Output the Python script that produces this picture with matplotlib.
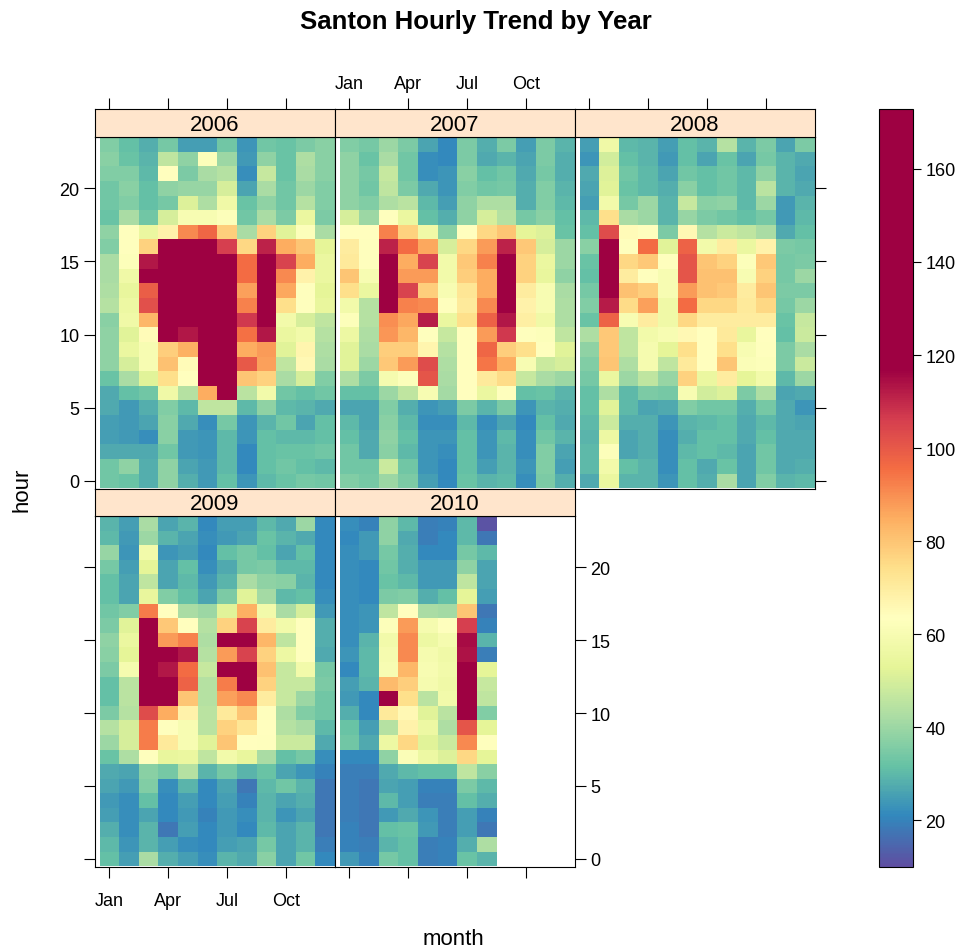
import numpy as np
import matplotlib
matplotlib.use("Agg")
import matplotlib.pyplot as plt
from matplotlib.colors import ListedColormap, Normalize

plt.rcParams['font.family'] = ['Liberation Sans', 'DejaVu Sans']

years = ["2006", "2007", "2008", "2009", "2010"]
month_ticks = [1, 4, 7, 10]
month_labels = ["Jan", "Apr", "Jul", "Oct"]
hour_ticks = [0, 5, 10, 15, 20]

# rows listed from hour 23 (top) down to hour 0; columns Jan..Dec
v2006 = [
    [36, 31, 28, 34, 25, 25, 33, 23, 33, 32, 35, 37],
    [37, 32, 29, 46, 38, 62, 40, 24, 38, 32, 43, 37],
    [36, 36, 30, 64, 35, 42, 44, 22, 47, 32, 42, 37],
    [33, 37, 31, 38, 39, 39, 50, 26, 42, 33, 40, 36],
    [33, 36, 31, 34, 51, 43, 57, 32, 38, 33, 44, 36],
    [32, 42, 33, 50, 60, 60, 62, 33, 42, 35, 55, 35],
    [38, 63, 55, 68, 91, 97, 78, 42, 77, 52, 62, 42],
    [36, 63, 77, 130, 140, 130, 106, 76, 111, 85, 80, 53],
    [42, 62, 113, 150, 160, 160, 140, 96, 130, 105, 85, 55],
    [42, 57, 125, 160, 170, 170, 150, 96, 140, 91, 68, 55],
    [43, 54, 99, 165, 170, 170, 150, 87, 140, 86, 63, 53],
    [44, 56, 102, 160, 170, 170, 150, 92, 135, 74, 63, 54],
    [37, 57, 83, 150, 160, 160, 140, 107, 125, 58, 50, 46],
    [38, 52, 65, 118, 113, 150, 140, 95, 113, 55, 58, 44],
    [38, 55, 60, 78, 84, 140, 130, 85, 88, 52, 67, 43],
    [38, 50, 60, 81, 65, 140, 130, 100, 87, 46, 66, 42],
    [32, 42, 52, 74, 64, 135, 135, 80, 77, 42, 50, 36],
    [27, 31, 33, 57, 44, 85, 130, 45, 58, 33, 31, 33],
    [27, 24, 28, 36, 30, 46, 46, 30, 38, 30, 29, 27],
    [25, 24, 26, 37, 27, 22, 34, 23, 29, 33, 26, 31],
    [25, 24, 22, 37, 24, 23, 30, 23, 31, 30, 30, 31],
    [27, 27, 27, 33, 24, 23, 30, 21, 31, 32, 32, 33],
    [33, 38, 28, 38, 26, 24, 30, 21, 31, 33, 31, 30],
    [33, 32, 28, 38, 28, 24, 31, 23, 30, 32, 34, 33],
]
v2007 = [
    [36, 34, 40, 35, 26, 21, 35, 28, 35, 25, 35, 29],
    [38, 32, 42, 33, 22, 21, 35, 27, 29, 26, 35, 28],
    [38, 34, 47, 33, 22, 23, 37, 31, 33, 27, 34, 28],
    [38, 33, 46, 35, 27, 23, 36, 33, 34, 28, 36, 29],
    [38, 36, 43, 45, 30, 25, 38, 43, 43, 28, 36, 30],
    [50, 40, 63, 55, 31, 28, 38, 50, 44, 34, 37, 31],
    [64, 64, 92, 77, 57, 37, 64, 76, 80, 53, 51, 32],
    [70, 63, 111, 96, 86, 50, 76, 88, 111, 79, 50, 40],
    [71, 63, 130, 85, 105, 58, 79, 92, 135, 77, 55, 40],
    [80, 60, 135, 88, 88, 58, 78, 85, 140, 77, 54, 38],
    [74, 55, 130, 105, 78, 60, 72, 85, 140, 70, 60, 42],
    [58, 44, 130, 92, 91, 63, 71, 91, 140, 68, 60, 43],
    [62, 44, 90, 86, 112, 55, 74, 98, 113, 69, 57, 43],
    [56, 43, 89, 83, 63, 47, 64, 88, 107, 63, 62, 46],
    [52, 42, 78, 78, 67, 44, 64, 97, 78, 74, 63, 52],
    [52, 40, 79, 88, 103, 43, 64, 94, 85, 60, 48, 50],
    [43, 35, 59, 62, 101, 42, 64, 71, 75, 47, 42, 40],
    [31, 31, 40, 46, 60, 41, 64, 55, 63, 31, 32, 29],
    [26, 26, 36, 28, 23, 25, 35, 29, 35, 23, 29, 28],
    [30, 26, 37, 30, 22, 22, 30, 22, 26, 21, 31, 27],
    [31, 27, 38, 31, 23, 23, 31, 23, 30, 22, 33, 29],
    [33, 27, 37, 30, 23, 22, 31, 23, 29, 22, 36, 26],
    [33, 33, 48, 33, 23, 21, 31, 25, 29, 23, 36, 25],
    [36, 34, 40, 35, 25, 21, 32, 29, 30, 22, 35, 28],
]
v2008 = [
    [25, 57, 30, 29, 25, 31, 29, 44, 29, 35, 26, 35],
    [23, 49, 31, 29, 24, 31, 26, 32, 26, 34, 29, 27],
    [27, 51, 33, 30, 26, 33, 31, 33, 30, 38, 29, 26],
    [26, 52, 32, 30, 28, 37, 31, 33, 30, 45, 29, 27],
    [25, 58, 34, 40, 29, 47, 37, 38, 30, 40, 24, 29],
    [30, 74, 42, 40, 29, 39, 35, 33, 31, 34, 24, 30],
    [31, 103, 65, 63, 35, 66, 44, 48, 46, 42, 27, 31],
    [37, 140, 63, 96, 52, 98, 58, 70, 55, 68, 35, 34],
    [32, 150, 76, 79, 63, 101, 80, 77, 62, 79, 34, 35],
    [31, 150, 70, 63, 60, 101, 81, 81, 60, 77, 34, 40],
    [34, 140, 81, 78, 60, 88, 81, 79, 70, 80, 35, 35],
    [36, 112, 75, 87, 57, 96, 76, 76, 71, 76, 34, 40],
    [32, 98, 60, 70, 57, 76, 70, 70, 70, 70, 32, 47],
    [43, 79, 46, 58, 60, 66, 64, 71, 54, 64, 31, 48],
    [38, 79, 46, 59, 53, 74, 64, 74, 60, 63, 35, 42],
    [36, 80, 43, 59, 46, 71, 64, 80, 61, 62, 35, 48],
    [34, 55, 40, 46, 39, 77, 55, 70, 53, 58, 30, 40],
    [31, 43, 30, 35, 34, 60, 49, 51, 35, 43, 26, 27],
    [31, 52, 30, 26, 27, 36, 33, 33, 28, 34, 27, 23],
    [30, 48, 28, 28, 23, 29, 30, 31, 27, 30, 27, 26],
    [29, 56, 26, 28, 22, 28, 31, 31, 27, 31, 27, 27],
    [30, 62, 26, 28, 22, 30, 31, 30, 26, 33, 27, 27],
    [30, 58, 31, 29, 22, 31, 27, 32, 26, 33, 27, 28],
    [27, 55, 29, 29, 23, 31, 28, 42, 26, 36, 29, 30],
]
v2009 = [
    [29, 25, 42, 26, 29, 21, 25, 25, 30, 27, 40, 21],
    [30, 24, 40, 29, 26, 22, 24, 26, 32, 29, 27, 21],
    [39, 23, 58, 23, 25, 21, 31, 34, 31, 26, 31, 21],
    [34, 25, 53, 26, 31, 22, 27, 34, 35, 30, 30, 21],
    [31, 26, 46, 26, 30, 24, 29, 42, 38, 37, 29, 21],
    [31, 26, 54, 36, 31, 26, 35, 52, 41, 30, 31, 22],
    [33, 36, 93, 64, 42, 40, 52, 84, 58, 42, 50, 24],
    [35, 52, 130, 79, 64, 44, 77, 105, 70, 58, 63, 28],
    [38, 55, 140, 88, 92, 43, 135, 135, 83, 46, 63, 28],
    [37, 53, 140, 120, 113, 44, 88, 105, 77, 56, 63, 27],
    [35, 59, 140, 113, 96, 47, 135, 135, 81, 47, 58, 34],
    [31, 45, 140, 130, 98, 44, 93, 125, 77, 47, 47, 35],
    [31, 45, 130, 130, 80, 44, 87, 91, 70, 47, 40, 33],
    [35, 44, 103, 85, 68, 45, 71, 80, 63, 43, 36, 33],
    [44, 50, 93, 63, 60, 45, 77, 72, 64, 44, 42, 30],
    [40, 50, 93, 71, 60, 52, 80, 64, 63, 48, 48, 27],
    [32, 43, 63, 54, 55, 46, 58, 54, 42, 31, 34, 22],
    [27, 26, 37, 34, 44, 29, 34, 29, 32, 26, 23, 20],
    [26, 24, 36, 22, 29, 21, 26, 18, 30, 33, 29, 18],
    [24, 22, 31, 21, 25, 21, 25, 20, 29, 26, 28, 18],
    [25, 22, 26, 21, 24, 20, 24, 22, 29, 23, 26, 18],
    [28, 22, 29, 18, 25, 21, 24, 21, 30, 26, 29, 18],
    [30, 23, 29, 25, 22, 21, 25, 26, 34, 26, 29, 19],
    [31, 25, 42, 28, 25, 22, 29, 27, 37, 26, 33, 21],
]
# 2010: only Jan..Aug available
v2010 = [
    [22, 20, 38, 30, 19, 20, 30, 11],
    [21, 24, 38, 27, 19, 21, 30, 18],
    [22, 24, 34, 28, 21, 21, 34, 30],
    [22, 21, 33, 28, 24, 24, 38, 26],
    [22, 21, 32, 30, 24, 24, 46, 26],
    [22, 21, 35, 36, 28, 31, 53, 25],
    [22, 23, 46, 64, 42, 41, 80, 18],
    [22, 23, 62, 88, 59, 63, 106, 20],
    [22, 29, 58, 91, 56, 59, 115, 29],
    [23, 30, 59, 91, 59, 57, 114, 19],
    [21, 30, 60, 83, 60, 58, 135, 53],
    [25, 29, 82, 78, 59, 57, 140, 47],
    [24, 21, 140, 74, 45, 58, 140, 46],
    [28, 21, 71, 66, 52, 45, 135, 36],
    [32, 25, 44, 68, 56, 43, 101, 53],
    [33, 27, 56, 76, 52, 48, 91, 63],
    [21, 21, 38, 61, 56, 51, 76, 53],
    [19, 19, 27, 30, 31, 31, 46, 37],
    [19, 18, 26, 25, 20, 20, 35, 30],
    [19, 18, 30, 25, 19, 19, 31, 28],
    [19, 18, 24, 27, 23, 19, 25, 20],
    [20, 18, 31, 32, 24, 19, 25, 18],
    [20, 19, 29, 31, 19, 20, 28, 43],
    [24, 20, 34, 31, 19, 20, 32, 29],
]
values = {"2006": v2006, "2007": v2007, "2008": v2008, "2009": v2009, "2010": v2010}

VMIN, VMAX = 9.9, 172.9
SAT_LO, SAT_HI = 10.0, 117.0

# colour scale: Spectral (reversed) that saturates to dark red above ~117
base = plt.get_cmap("Spectral_r")
vals = np.linspace(VMIN, VMAX, 1024)
cols = base(np.clip((vals - SAT_LO) / (SAT_HI - SAT_LO), 0, 1))
cmap = ListedColormap(cols)
cmap.set_bad("white")
norm = Normalize(VMIN, VMAX)

W, H = 963, 953
fig = plt.figure(figsize=(W / 100, H / 100), dpi=100)


def rect(x0, y0, x1, y1):
    return [x0 / W, 1 - y1 / H, (x1 - x0) / W, (y1 - y0) / H]


# panel geometry (pixels)
col_x = [95, 335, 575]
pw = 240
rows = [(110, 138, 490), (490, 517, 868)]
positions = {"2006": (0, 0), "2007": (0, 1), "2008": (0, 2), "2009": (1, 0), "2010": (1, 1)}

XLIM = (0.27, 12.5)
YLIM = (-0.55, 23.5)
xedges = np.arange(0.5, 13.5, 1)
yedges = np.arange(-0.5, 24.5, 1)
LW = 0.8
TL = 8
FS_TICK = 13

mesh = None
for yr in years:
    r, c = positions[yr]
    st, sb, pb = rows[r]
    x0 = col_x[c]
    ax = fig.add_axes(rect(x0, sb, x0 + pw, pb))
    arr = np.array(values[yr], dtype=float)[::-1]  # hour 0 first
    full = np.full((24, 12), np.nan)
    full[:, :arr.shape[1]] = arr
    data = np.ma.masked_invalid(full)
    mesh = ax.pcolormesh(xedges, yedges, data, cmap=cmap, norm=norm,
                         shading="flat", edgecolors="face", linewidth=0)
    ax.set_xlim(*XLIM)
    ax.set_ylim(*YLIM)
    for s in ax.spines.values():
        s.set_linewidth(LW)
    ax.tick_params(direction="out", length=TL, width=LW, labelsize=FS_TICK,
                   colors="black", pad=3)
    # x axis
    ax.set_xticks(month_ticks)
    if r == 1:
        ax.xaxis.set_ticks_position("bottom")
        ax.tick_params(axis="x", pad=10)
        if yr == "2009":
            ax.set_xticklabels(month_labels)
        else:
            ax.set_xticklabels([])
    else:
        ax.tick_params(axis="x", bottom=False, labelbottom=False)
    # y axis
    ax.set_yticks(hour_ticks)
    left = (c == 0)
    right = (yr == "2008") or (yr == "2010")
    ax.tick_params(axis="y", left=left, right=right,
                   labelleft=(yr == "2006"), labelright=(yr == "2010"))

    # strip
    sax = fig.add_axes(rect(x0, st, x0 + pw, sb))
    sax.set_facecolor("#ffe5cc")
    sax.set_xlim(*XLIM)
    sax.set_ylim(0, 1)
    sax.set_yticks([])
    for s in sax.spines.values():
        s.set_linewidth(LW)
    sax.text(0.5, 0.46, yr, transform=sax.transAxes, ha="center", va="center",
             fontsize=16)
    if r == 0:
        sax.xaxis.set_ticks_position("top")
        sax.set_xticks(month_ticks)
        sax.tick_params(axis="x", direction="out", length=TL, width=LW,
                        labelsize=FS_TICK, pad=4, bottom=False, top=True,
                        labelbottom=False, labeltop=(yr == "2007"))
        if yr == "2007":
            sax.set_xticklabels(month_labels)
        else:
            sax.set_xticklabels([])
    else:
        sax.set_xticks([])

# colour key
cax = fig.add_axes(rect(879, 110, 913, 868))
cb = fig.colorbar(mesh, cax=cax)
cb.set_ticks([20, 40, 60, 80, 100, 120, 140, 160])
cb.outline.set_linewidth(LW)
cax.tick_params(direction="out", length=6, width=LW, labelsize=FS_TICK, pad=3)

fig.text(476 / W, 1 - 22 / H, "Santon Hourly Trend by Year", ha="center",
         va="center", fontsize=18.5, fontweight="bold")
fig.text(22 / W, 1 - 490 / H, "hour", rotation=90, ha="center", va="center",
         fontsize=16)
fig.text(453 / W, 1 - 940 / H, "month", ha="center", va="center", fontsize=16)

fig.savefig("out.png", dpi=100)
